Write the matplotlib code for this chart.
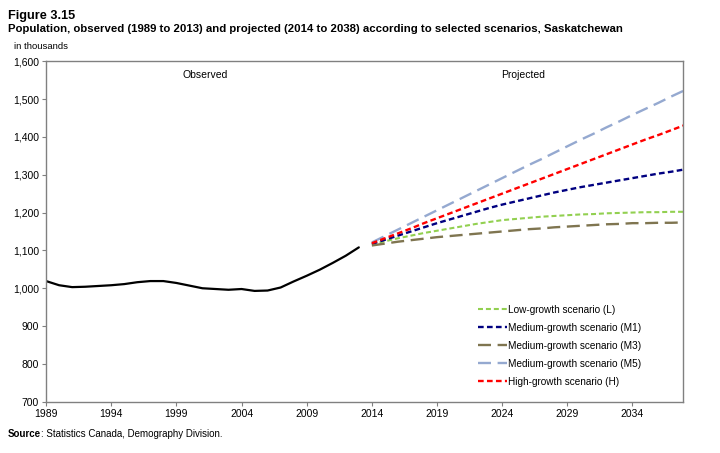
import matplotlib
matplotlib.use("Agg")
import matplotlib.pyplot as plt
from matplotlib.ticker import FuncFormatter

plt.rcParams['font.family'] = ['Liberation Sans', 'DejaVu Sans']

# observed population, in thousands
obs_years = list(range(1989, 2014))
observed = [1019, 1008, 1003, 1004, 1006, 1008, 1011, 1016, 1019, 1019,
            1014, 1007, 1000, 998, 996, 998, 993, 994, 1002, 1018,
            1033, 1049, 1067, 1086, 1108]

# projections 2014-2038
proj_years = list(range(2014, 2039))
low_L = [1116, 1124, 1132, 1139, 1146, 1152, 1158, 1164, 1170, 1175,
         1180, 1183, 1186, 1189, 1191, 1193, 1195, 1196, 1198, 1199,
         1200, 1201, 1201, 1202, 1202]
med_M1 = [1117, 1128, 1139, 1150, 1161, 1172, 1182, 1192, 1202, 1212,
          1221, 1229, 1237, 1245, 1253, 1260, 1267, 1273, 1279, 1285,
          1291, 1297, 1303, 1308, 1314]
med_M3 = [1113, 1118, 1123, 1127, 1131, 1135, 1138, 1141, 1144, 1147,
          1150, 1153, 1156, 1158, 1161, 1163, 1165, 1167, 1169, 1170,
          1172, 1172, 1173, 1173, 1174]
med_M5 = [1121, 1138, 1155, 1172, 1189, 1206, 1223, 1240, 1257, 1274,
          1291, 1308, 1325, 1341, 1358, 1375, 1392, 1408, 1425, 1441,
          1458, 1474, 1490, 1507, 1523]
high_H = [1119, 1132, 1145, 1158, 1172, 1185, 1198, 1211, 1224, 1237,
          1250, 1263, 1276, 1289, 1302, 1315, 1328, 1341, 1354, 1367,
          1380, 1393, 1405, 1418, 1431]

labels = ["Low-growth scenario (L)", "Medium-growth scenario (M1)",
          "Medium-growth scenario (M3)", "Medium-growth scenario (M5)",
          "High-growth scenario (H)"]

fig = plt.figure(figsize=(7.2, 4.53), dpi=100)
ax = fig.add_axes([0.064, 0.113, 0.885, 0.752])

ax.plot(obs_years, observed, color="black", lw=1.6, solid_capstyle="round")

short = (2.4, 1.4)
longd = (5.5, 2.8)
ax.plot(proj_years, low_L, color="#92d050", lw=1.5, dashes=short, label=labels[0])
ax.plot(proj_years, med_M1, color="#000080", lw=1.7, dashes=short, label=labels[1])
ax.plot(proj_years, med_M3, color="#7f7550", lw=1.7, dashes=longd, label=labels[2])
ax.plot(proj_years, med_M5, color="#95a9d0", lw=1.7, dashes=longd, label=labels[3])
ax.plot(proj_years, high_H, color="#ff0000", lw=1.7, dashes=short, label=labels[4])

ax.set_xlim(1989, 2037.9)
ax.set_ylim(700, 1600)
ax.set_xticks(range(1989, 2035, 5))
ax.set_yticks(range(700, 1601, 100))
ax.yaxis.set_major_formatter(FuncFormatter(lambda v, p: f"{int(v):,}"))
ax.tick_params(labelsize=7.5, length=3, width=0.8, color="#808080", pad=2)

for s in ax.spines.values():
    s.set_color("#808080")
    s.set_linewidth(1.0)

ax.text(2001.2, 1563, "Observed", ha="center", va="center", fontsize=7.5)
ax.text(2025.6, 1563, "Projected", ha="center", va="center", fontsize=7.5)

ax.legend(loc="upper left", bbox_to_anchor=(0.658, 0.336), bbox_transform=fig.transFigure,
          frameon=False, fontsize=7.2, handlelength=2.9, handletextpad=0.15,
          labelspacing=0.8, borderaxespad=0)

fig.text(0.011, 0.977, "Figure 3.15", fontsize=9.2, fontweight="bold", va="top")
fig.text(0.011, 0.946, "Population, observed (1989 to 2013) and projected (2014 to 2038) according to selected scenarios, Saskatchewan",
         fontsize=8.2, fontweight="bold", va="top")
fig.text(0.02, 0.908, "in thousands", fontsize=6.8, va="top")

src = fig.text(0.011, 0.042, "Source", fontsize=7, fontweight="bold", va="center")
ax.annotate(": Statistics Canada, Demography Division.", xy=(1, 0.5), xycoords=src,
            va="center", ha="left", fontsize=7)

fig.savefig("out.png", dpi=100)
